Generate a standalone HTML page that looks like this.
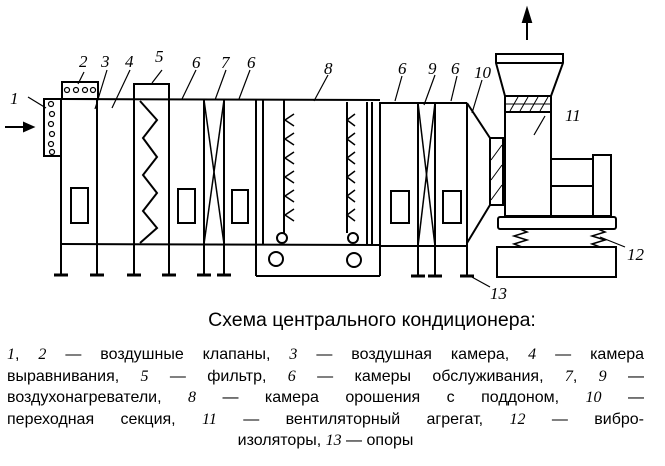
<!DOCTYPE html>
<html><head><meta charset="utf-8"><style>
body{margin:0;width:665px;height:466px;background:#fff;overflow:hidden;position:relative;font-family:"Liberation Sans Narrow","Liberation Sans",sans-serif}
svg{position:absolute;left:0;top:0}
.cap{position:absolute;left:184px;width:376px;top:309px;text-align:center;font-size:19.5px;white-space:nowrap}
.txt{position:absolute;left:7px;width:637px;top:344px;font-size:16px;line-height:21.5px}
.l{display:block;height:21.5px;white-space:nowrap;text-align:justify;text-align-last:justify}
.c{text-align-last:center;text-align:center}
i{font-family:"Liberation Serif",serif}
</style></head><body>
<svg width="665" height="300" viewBox="0 0 665 300" fill="none" stroke="#000" stroke-width="2">
<line x1="5" y1="127" x2="28" y2="127"/><path d="M33 127 L24 123 L24 131 Z" fill="#000"/>
<rect x="44" y="99" width="17" height="57"/>
<g stroke-width="1.2"><circle cx="51" cy="104" r="2.5"/><circle cx="52" cy="114" r="2.5"/><circle cx="51" cy="124" r="2.5"/><circle cx="52" cy="134" r="2.5"/><circle cx="51" cy="144" r="2.5"/><circle cx="52" cy="152" r="2.5"/>
<circle cx="67" cy="90" r="2.5"/><circle cx="76" cy="90" r="2.5"/><circle cx="85" cy="90" r="2.5"/><circle cx="93" cy="90" r="2.5"/></g>
<rect x="62" y="82" width="36" height="17"/>
<polyline points="61,99 380,100"/>
<line x1="61" y1="244" x2="380" y2="245"/>
<line x1="61" y1="99" x2="61" y2="275"/>
<line x1="97" y1="99" x2="97" y2="275"/>
<line x1="134" y1="99" x2="134" y2="275"/>
<line x1="169" y1="99" x2="169" y2="275"/>
<polyline points="134,99 134,84 169,84 169,99"/>
<polyline points="140,101 157,120 143,138 157,157 143,175 157,193 143,211 157,228 140,243"/>
<line x1="204" y1="100" x2="204" y2="275"/><line x1="224" y1="100" x2="224" y2="275"/>
<line x1="204" y1="100" x2="224" y2="244" stroke-width="1.5"/><line x1="224" y1="100" x2="204" y2="244" stroke-width="1.5"/>
<rect x="71" y="188" width="17" height="35"/><rect x="178" y="189" width="17" height="34"/><rect x="232" y="190" width="16" height="33"/>
<g stroke-width="3"><line x1="54" y1="275" x2="68" y2="275"/><line x1="90" y1="275" x2="104" y2="275"/><line x1="127" y1="275" x2="141" y2="275"/><line x1="162" y1="275" x2="176" y2="275"/><line x1="197" y1="275" x2="211" y2="275"/><line x1="217" y1="275" x2="231" y2="275"/></g>
<line x1="256" y1="100" x2="256" y2="276"/><line x1="263" y1="100" x2="263" y2="244"/>
<line x1="284" y1="100" x2="284" y2="233"/><line x1="347" y1="102" x2="347" y2="233"/>
<circle cx="282" cy="238" r="5"/><circle cx="353" cy="238" r="5"/>
<g stroke-width="1.5">
<polyline points="294,114 285,120 294,126"/><polyline points="294,133 285,139 294,145"/><polyline points="294,152 285,158 294,164"/><polyline points="294,171 285,177 294,183"/><polyline points="294,190 285,196 294,202"/><polyline points="294,209 285,215 294,221"/>
<polyline points="355,114 347,120 355,126"/><polyline points="355,133 347,139 355,145"/><polyline points="355,152 347,158 355,164"/><polyline points="355,171 347,177 355,183"/><polyline points="355,190 347,196 355,202"/><polyline points="355,209 347,215 355,221"/>
</g>
<line x1="367" y1="102" x2="367" y2="245"/><line x1="372" y1="102" x2="372" y2="245"/><line x1="380" y1="102" x2="380" y2="276"/>
<polyline points="256,276 380,276"/>
<circle cx="276" cy="259" r="7"/><circle cx="354" cy="260" r="7"/>
<line x1="380" y1="103" x2="467" y2="103"/><line x1="380" y1="246" x2="467" y2="246"/>
<line x1="467" y1="103" x2="467" y2="276"/>
<line x1="418" y1="103" x2="418" y2="276"/><line x1="435" y1="103" x2="435" y2="276"/>
<line x1="418" y1="103" x2="435" y2="246" stroke-width="1.5"/><line x1="435" y1="103" x2="418" y2="246" stroke-width="1.5"/>
<rect x="391" y="191" width="18" height="32"/><rect x="443" y="191" width="18" height="32"/>
<g stroke-width="3"><line x1="411" y1="276" x2="425" y2="276"/><line x1="428" y1="276" x2="442" y2="276"/><line x1="460" y1="276" x2="474" y2="276"/></g>
<polyline points="467,103 490,138 490,205 467,243"/>
<rect x="490" y="138" width="13" height="67"/>
<g stroke-width="1"><line x1="491" y1="160" x2="502" y2="145"/><line x1="491" y1="180" x2="502" y2="165"/><line x1="491" y1="200" x2="502" y2="185"/></g>
<rect x="505" y="96" width="46" height="120"/>
<rect x="505" y="96" width="46" height="16" fill="#fff"/>
<g stroke-width="1"><line x1="506" y1="104" x2="550" y2="104"/><line x1="510" y1="111" x2="518" y2="97"/><line x1="520" y1="111" x2="528" y2="97"/><line x1="530" y1="111" x2="538" y2="97"/><line x1="540" y1="111" x2="548" y2="97"/></g>
<polyline points="505,96 496,63 496,54 563,54 563,63 551,96"/>
<line x1="496" y1="63" x2="563" y2="63"/>
<line x1="527" y1="40" x2="527" y2="18"/><path d="M527 9 L523 22 L531 22 Z" fill="#000"/>
<rect x="551" y="159" width="42" height="57"/><line x1="551" y1="186" x2="593" y2="186"/>
<rect x="593" y="155" width="18" height="61"/>
<rect x="498" y="217" width="118" height="12" rx="2"/>
<g stroke-width="1.5"><polyline points="520,229 527,232 514,236 527,240 514,244 522,247"/><polyline points="598,229 605,232 592,236 605,240 592,244 600,247"/></g>
<rect x="497" y="247" width="119" height="30"/>
<g stroke-width="1.2">
<line x1="28" y1="97" x2="46" y2="108"/><line x1="84" y1="72" x2="78" y2="84"/><line x1="107" y1="70" x2="95" y2="109"/><line x1="130" y1="70" x2="112" y2="108"/>
<line x1="162" y1="70" x2="152" y2="83"/><line x1="196" y1="70" x2="182" y2="99"/><line x1="226" y1="70" x2="215" y2="100"/><line x1="250" y1="70" x2="239" y2="99"/><line x1="328" y1="75" x2="314" y2="101"/>
<line x1="402" y1="76" x2="395" y2="101"/><line x1="435" y1="75" x2="424" y2="105"/><line x1="457" y1="76" x2="451" y2="101"/><line x1="482" y1="80" x2="472" y2="113"/>
<line x1="545" y1="116" x2="534" y2="135"/><line x1="600" y1="237" x2="625" y2="247"/><line x1="470" y1="276" x2="490" y2="287"/>
</g>
<g fill="#000" stroke="none" font-family="Liberation Serif,serif" font-style="italic" font-size="17">
<text x="10" y="104">1</text><text x="79" y="67">2</text><text x="101" y="67">3</text><text x="125" y="67">4</text><text x="155" y="62">5</text><text x="192" y="68">6</text><text x="221" y="68">7</text><text x="247" y="68">6</text><text x="324" y="74">8</text><text x="398" y="74">6</text><text x="428" y="74">9</text><text x="451" y="74">6</text><text x="474" y="78">10</text><text x="565" y="121">11</text><text x="627" y="260">12</text><text x="490" y="299">13</text>
</g>
</svg>
<div class="cap">Схема центрального кондиционера:</div>
<div class="txt">
<span class="l"><i>1</i>, <i>2</i> — воздушные клапаны, <i>3</i> — воздушная камера, <i>4</i> — камера</span>
<span class="l">выравнивания, <i>5</i> — фильтр, <i>6</i> — камеры обслуживания, <i>7</i>, <i>9</i> —</span>
<span class="l">воздухонагреватели, <i>8</i> — камера орошения с поддоном, <i>10</i> —</span>
<span class="l">переходная секция, <i>11</i> — вентиляторный агрегат, <i>12</i> — вибро-</span>
<span class="l c">изоляторы, <i>13</i> — опоры</span>
</div>
</body></html>
